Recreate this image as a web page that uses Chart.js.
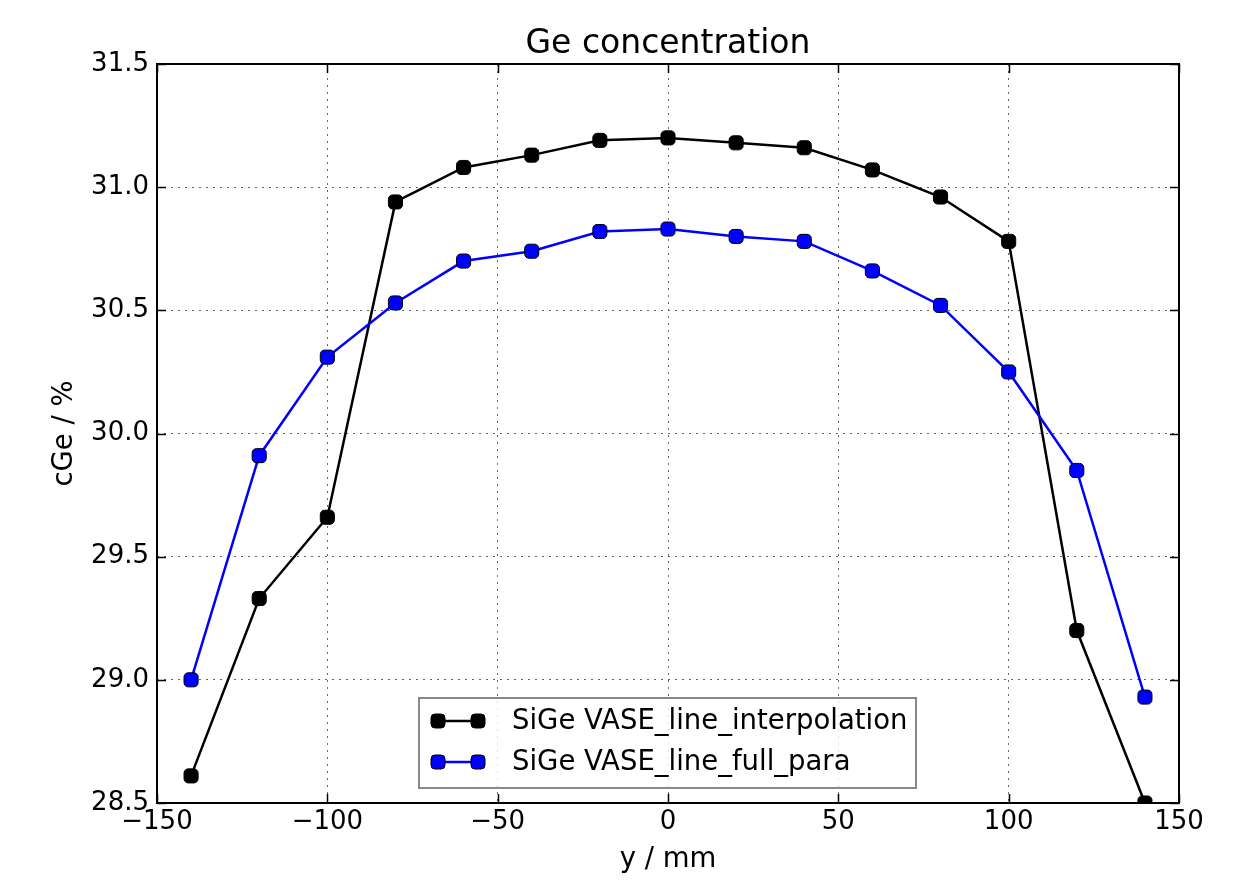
<!DOCTYPE html>
<html>
<head>
<meta charset="utf-8">
<script src="https://cdn.jsdelivr.net/npm/chart.js@4"></script>
<style>
  html, body { margin: 0; padding: 0; background: #fff; }
  #wrap { width: 1251px; height: 882px; }
</style>
</head>
<body>
<div id="wrap"><canvas id="chart"></canvas></div>
<script>
const yPos = [-140, -120, -100, -80, -60, -40, -20, 0, 20, 40, 60, 80, 100, 120, 140];
const interpValues = [28.61, 29.33, 29.66, 30.94, 31.08, 31.13, 31.19, 31.20, 31.18, 31.16, 31.07, 30.96, 30.78, 29.20, 28.50];
const fullParaValues = [29.00, 29.91, 30.31, 30.53, 30.70, 30.74, 30.82, 30.83, 30.80, 30.78, 30.66, 30.52, 30.25, 29.85, 28.93];
const xTicks = [-150, -100, -50, 0, 50, 100, 150];
const yTicks = [28.5, 29.0, 29.5, 30.0, 30.5, 31.0, 31.5];
const titleText = 'Ge concentration';

const FONT = 'DejaVu Sans';

function toPoints(vals) {
  return yPos.map((x, i) => ({ x: x, y: vals[i] }));
}

// title over the axes, frame, inward ticks and legend box like matplotlib
const mplDecor = {
  id: 'mplDecor',
  afterDatasetsDraw(chart) {
    const ctx = chart.ctx;
    const a = chart.chartArea;
    const xs = chart.scales.x, ys = chart.scales.y;
    ctx.save();
    ctx.fillStyle = '#000';
    ctx.font = '33px "' + FONT + '"';
    ctx.textAlign = 'center';
    ctx.textBaseline = 'middle';
    ctx.fillText(titleText, (a.left + a.right) / 2, 44);

    ctx.strokeStyle = '#000';
    ctx.lineWidth = 1.5;
    ctx.beginPath();
    xTicks.forEach(t => {
      const px = Math.round(xs.getPixelForValue(t)) + 0.5;
      ctx.moveTo(px, a.bottom); ctx.lineTo(px, a.bottom - 9);
      ctx.moveTo(px, a.top); ctx.lineTo(px, a.top + 9);
    });
    yTicks.forEach(t => {
      const py = Math.round(ys.getPixelForValue(t)) + 0.5;
      ctx.moveTo(a.left, py); ctx.lineTo(a.left + 9, py);
      ctx.moveTo(a.right, py); ctx.lineTo(a.right - 9, py);
    });
    ctx.stroke();
    ctx.lineWidth = 2;
    ctx.strokeRect(a.left, a.top, a.right - a.left, a.bottom - a.top);

    // legend
    const bx = 419, by = 698, bw = 497, bh = 90;
    ctx.fillStyle = 'rgba(255,255,255,0.8)';
    ctx.fillRect(bx, by, bw, bh);
    ctx.strokeStyle = '#888';
    ctx.lineWidth = 2;
    ctx.strokeRect(bx, by, bw, bh);
    ctx.font = '27.5px "' + FONT + '"';
    ctx.textAlign = 'left';
    ctx.textBaseline = 'middle';
    chart.data.datasets.forEach((ds, i) => {
      const cy = by + 23 + i * 41;
      ctx.strokeStyle = ds.borderColor;
      ctx.lineWidth = 2.5;
      ctx.beginPath();
      ctx.moveTo(438, cy); ctx.lineTo(478, cy);
      ctx.stroke();
      [438, 478].forEach(mx => {
        ctx.fillStyle = ds.pointBackgroundColor;
        ctx.strokeStyle = '#000';
        ctx.lineWidth = 1;
        ctx.beginPath();
        ctx.roundRect(mx - 7, cy - 7, 14, 14, 4);
        ctx.fill();
        ctx.stroke();
      });
      ctx.fillStyle = '#000';
      ctx.fillText(ds.label, 512, cy + 1);
    });
    ctx.restore();
  }
};

const ctx = document.getElementById('chart');
new Chart(ctx, {
  type: 'line',
  data: {
    datasets: [{
      label: 'SiGe VASE_line_interpolation',
      data: toPoints(interpValues),
      borderColor: '#000000',
      backgroundColor: '#000000',
      pointBackgroundColor: '#000000',
      pointBorderColor: '#000000',
      borderWidth: 2.5,
      pointStyle: 'rectRounded',
      pointRadius: 8.2,
      pointHoverRadius: 8.2,
      pointBorderWidth: 1,
      clip: 0,
      order: 1
    }, {
      label: 'SiGe VASE_line_full_para',
      data: toPoints(fullParaValues),
      borderColor: '#0000ff',
      backgroundColor: '#0000ff',
      pointBackgroundColor: '#0000ff',
      pointBorderColor: '#000000',
      borderWidth: 2.5,
      pointStyle: 'rectRounded',
      pointRadius: 8.2,
      pointHoverRadius: 8.2,
      pointBorderWidth: 1,
      clip: 0,
      order: 0
    }]
  },
  options: {
    responsive: true,
    maintainAspectRatio: false,
    animation: false,
    layout: { padding: { left: 0, right: 72, top: 64, bottom: 0 } },
    plugins: {
      legend: { display: false },
      tooltip: { enabled: false },
      title: { display: false }
    },
    scales: {
      x: {
        type: 'linear',
        min: -150,
        max: 150,
        afterFit: s => { s.height = 79; },
        afterBuildTicks: s => { s.ticks = xTicks.map(v => ({ value: v })); },
        ticks: {
          color: '#000',
          font: { family: FONT, size: 26 },
          padding: 4,
          maxRotation: 0,
          callback: v => String(v).replace('-', '\u2212')
        },
        grid: { color: '#666', lineWidth: 1, drawTicks: false },
        border: { display: false, dash: [2, 5] },
        title: {
          display: true,
          text: 'y / mm',
          color: '#000',
          font: { family: FONT, size: 27.5 },
          padding: { top: 4, bottom: 6 }
        }
      },
      y: {
        type: 'linear',
        min: 28.5,
        max: 31.5,
        afterFit: s => { s.width = 157; },
        afterBuildTicks: s => { s.ticks = yTicks.map(v => ({ value: v })); },
        ticks: {
          color: '#000',
          font: { family: FONT, size: 26 },
          padding: 8,
          callback: v => Number(v).toFixed(1)
        },
        grid: { color: '#666', lineWidth: 1, drawTicks: false },
        border: { display: false, dash: [2, 5] },
        title: {
          display: true,
          text: 'cGe / %',
          color: '#000',
          font: { family: FONT, size: 27.5 },
          padding: { top: 48, bottom: 0 }
        }
      }
    }
  },
  plugins: [mplDecor]
});
</script>
</body>
</html>
